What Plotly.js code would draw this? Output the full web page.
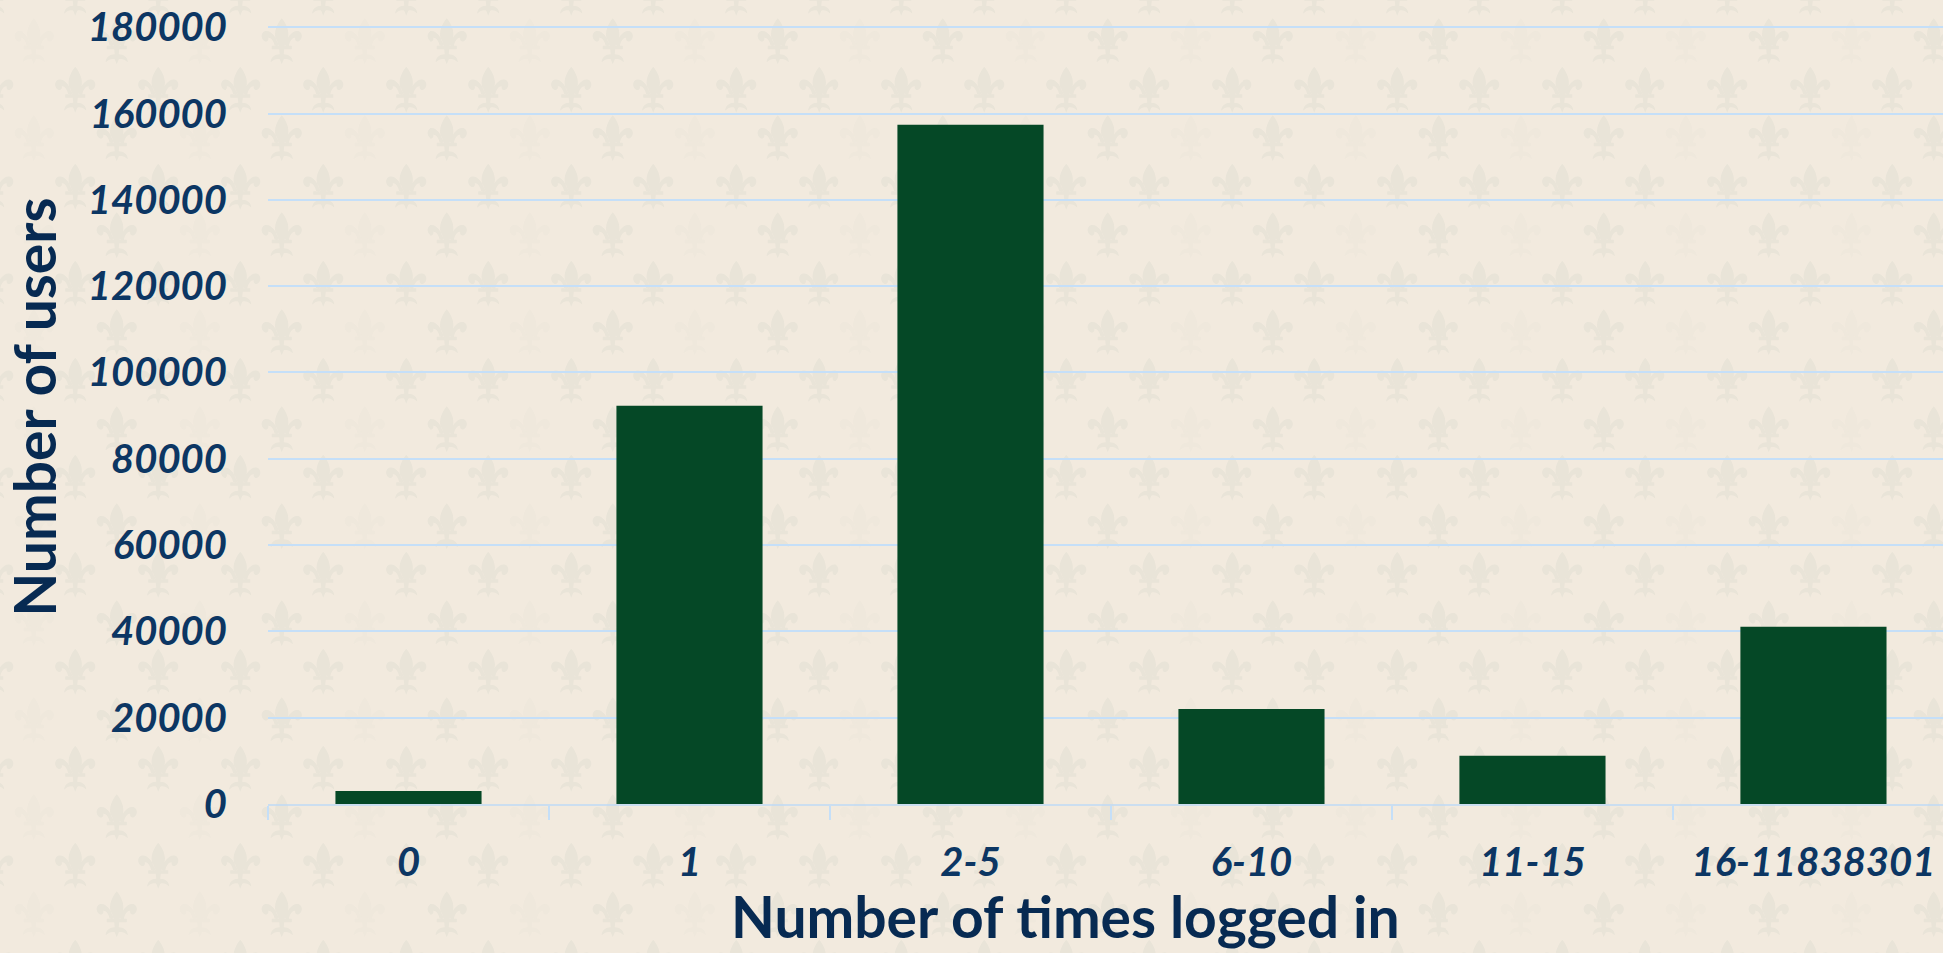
<!DOCTYPE html>
<html>
<head>
<meta charset="utf-8">
<script src="https://cdn.plot.ly/plotly-3.0.1.min.js"></script>
<style>
  html, body { margin: 0; padding: 0; overflow: hidden; }
  body { background-color: #f2eade; width: 1943px; height: 953px; }
  #chart { width: 1943px; height: 953px; }
</style>
</head>
<body>
<div id="chart"></div>
<script>
// ---- data ----
const categories = ["0", "1", "2-5", "6-10", "11-15", "16-11838301"];
const userCounts = [3000, 92300, 157400, 22000, 11200, 41100];
const yTickValues = [0, 20000, 40000, 60000, 80000, 100000, 120000, 140000, 160000, 180000];
const xTitleText = "Number of times logged in";
const yTitleText = "Number of users";

// ---- decorative fleur-de-lis background ----
(function () {
  const fleur =
    'M0,-23 C5,-17 8,-9 6,-3 C5,0 3,3 2.5,5 L-2.5,5 C-3,3 -5,0 -6,-3 C-8,-9 -5,-17 0,-23 Z ' +
    'M3,4 C5,-4 11,-12 17,-10 C21,-8.5 21,-2 17,0 C15,1 12.5,-1 13.5,-3.5 C11,-4 8,-1 7,5 Z ' +
    'M-3,4 C-5,-4 -11,-12 -17,-10 C-21,-8.5 -21,-2 -17,0 C-15,1 -12.5,-1 -13.5,-3.5 C-11,-4 -8,-1 -7,5 Z ' +
    'M-10,4.5 H10 V8 H-10 Z ' +
    'M-2.5,8 L2.5,8 L2,13 C7,13 11,16 11,21 C8,18 5,17 2,18 L0,23 L-2,18 C-5,17 -8,18 -11,21 C-11,16 -7,13 -2,13 Z';
  const W = 165.2, H = 97;
  const spots = [[20.65, 24.25, '#efe8dc'], [103.25, 24.25, '#e9e4d8'], [61.95, 72.75, '#e9e4d8'], [144.55, 72.75, '#e9e4d8']];
  let g = '';
  spots.forEach(s => { g += '<path transform="translate(' + s[0] + ',' + s[1] + ')" d="' + fleur + '" fill="' + s[2] + '"/>'; });
  const svg = '<svg xmlns="http://www.w3.org/2000/svg" width="' + W + '" height="' + H + '" viewBox="0 0 ' + W + ' ' + H + '">' + g + '</svg>';
  document.body.style.backgroundImage = 'url("data:image/svg+xml;charset=utf-8,' + encodeURIComponent(svg) + '")';
  document.body.style.backgroundPosition = '13.55px 16.75px';
})();

const tickColor = 'rgb(12,54,99)';
const titleColor = 'rgb(7,42,82)';
const gridColor = 'rgb(197,223,248)';
const tickFont = { family: 'Lato, "Open Sans", sans-serif', size: 40, color: tickColor, weight: 'bold', style: 'italic' };
const titleFont = { family: 'Lato, "Open Sans", sans-serif', size: 57, color: titleColor, weight: 'bold' };

const trace = {
  type: 'bar',
  x: categories,
  y: userCounts,
  marker: { color: 'rgb(5,72,38)', line: { width: 0 } },
  hoverinfo: 'x+y'
};

const layout = {
  width: 1943,
  height: 953,
  margin: { l: 268, r: 0, t: 10, b: 149, pad: 0 },
  paper_bgcolor: 'rgba(0,0,0,0)',
  plot_bgcolor: 'rgba(0,0,0,0)',
  bargap: 0.48,
  showlegend: false,
  xaxis: {
    type: 'category',
    range: [-0.5, 5.461],
    tickson: 'boundaries',
    ticks: 'outside',
    ticklen: 14,
    tickwidth: 2,
    tickcolor: gridColor,
    showline: true,
    linecolor: 'rgba(190,218,246,0.75)',
    linewidth: 2,
    showgrid: false,
    zeroline: false,
    tickfont: tickFont,
    ticklabelstandoff: 22,
    automargin: false
  },
  yaxis: {
    range: [0, 184000],
    tickmode: 'array',
    tickvals: yTickValues,
    ticktext: yTickValues.map(v => String(v)),
    showgrid: true,
    gridcolor: gridColor,
    gridwidth: 2,
    zeroline: false,
    showline: false,
    ticks: '',
    tickfont: tickFont,
    ticklabelstandoff: 40,
    automargin: false,
    title: { text: yTitleText, font: titleFont, standoff: 20 }
  },
  annotations: [{
    text: xTitleText,
    xref: 'paper', yref: 'paper',
    x: 0.4764, y: -0.1405,
    xanchor: 'center', yanchor: 'middle',
    showarrow: false,
    font: titleFont
  }]
};

Plotly.newPlot('chart', [trace], layout, { displayModeBar: false, responsive: false });
</script>
</body>
</html>
